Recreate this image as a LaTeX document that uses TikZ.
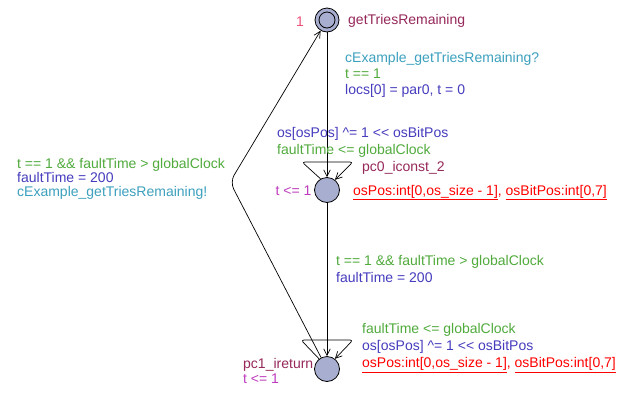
\documentclass[tikz,border=0pt]{standalone}
\usepackage{fontspec}
\setmainfont{Liberation Sans}[Ligatures={NoCommon}]
\usetikzlibrary{arrows.meta}

\definecolor{locfill}{RGB}{168,174,208}
\definecolor{synccol}{RGB}{60,160,190}
\definecolor{guardcol}{RGB}{80,170,60}
\definecolor{updcol}{RGB}{70,60,190}
\definecolor{namecol}{RGB}{150,40,90}
\definecolor{invcol}{RGB}{190,60,190}
\definecolor{priocol}{RGB}{240,80,120}
\definecolor{selcol}{RGB}{255,0,0}

\begin{document}
\begin{tikzpicture}[x=1pt,y=-1pt,
  loc/.style={circle,draw=black,line width=0.8pt,fill=locfill,minimum size=25pt,inner sep=0},
  lbl/.style={anchor=base west,inner sep=0,font=\fontsize{14}{16}\selectfont},
  trans/.style={draw=black,line width=0.7pt,-{Straight Barb[length=6.5pt,width=6.5pt]}},
  loopline/.style={trans,rounded corners=3pt}
]
% canvas
\fill[white] (0,0) rectangle (632,400);
\useasboundingbox (0,0) rectangle (632,400);

% locations
\node[loc,minimum size=24pt] (top) at (327,20) {};
\node[circle,draw=black,line width=0.8pt,minimum size=16pt,inner sep=0] (topin) at (top) {};
\node[loc] (mid) at (327,190) {};
\node[loc] (bot) at (327,369) {};

% nails
\coordinate (bend) at (230,182);
\coordinate (mloopL) at (302,162);
\coordinate (mloopR) at (353,162);
\coordinate (bloopL) at (301,340);
\coordinate (bloopR) at (353,340);

% transitions
\draw[trans] (top) -- (mid);
\draw[trans] (mid) -- (bot);
\draw[trans,rounded corners=8pt] (bot) -- (bend) -- (top);
\draw[loopline] (mid.120) -- (mloopL) -- (mloopR) -- (mid.52);
\draw[loopline] (bot.128) -- (bloopL) -- (bloopR) -- (bot.52);

% location labels
\node[lbl,text=priocol] (prio) at (296,26) {1};
\node[lbl,text=namecol] (nTop) at (348,24) {getTriesRemaining};
\node[lbl,text=namecol] (nMid) at (362,171) {pc0\_iconst\_2};
\node[lbl,text=invcol] (iMid) at (275.5,195) {t <= 1};
\node[lbl,text=namecol] (nBot) at (243,368) {pc1\_ireturn};
\node[lbl,text=invcol] (iBot) at (243,383.5) {t <= 1};

% top -> mid
\node[lbl,text=synccol] (s1) at (345,62) {cExample\_getTriesRemaining?};
\node[lbl,text=guardcol] (g1) at (345,78) {t == 1};
\node[lbl,text=updcol] (u1) at (345,94.5) {locs[0] = par0, t = 0};

% mid self loop
\node[lbl,text=updcol] (u2) at (277,137.5) {os[osPos] \textasciicircum= 1 <{}< osBitPos};
\node[lbl,text=guardcol] (g2) at (277,154) {faultTime <= globalClock};
\node[lbl,text=selcol] (sel2) at (353,195) {\underline{osPos:int[0,os\_size - 1]}, \underline{osBitPos:int[0,7]}};

% mid -> bot
\node[lbl,text=guardcol] (g3) at (336,265.5) {t == 1 \&\& faultTime > globalClock};
\node[lbl,text=updcol] (u3) at (336,282) {faultTime = 200};

% bot self loop
\node[lbl,text=guardcol] (g4) at (362,333) {faultTime <= globalClock};
\node[lbl,text=updcol] (u4) at (362,350) {os[osPos] \textasciicircum= 1 <{}< osBitPos};
\node[lbl,text=selcol] (sel4) at (362,367.5) {\underline{osPos:int[0,os\_size - 1]}, \underline{osBitPos:int[0,7]}};

% bot -> top
\node[lbl,text=guardcol] (g5) at (17,168) {t == 1 \&\& faultTime > globalClock};
\node[lbl,text=updcol] (u5) at (17,182.5) {faultTime = 200};
\node[lbl,text=synccol] (s5) at (17,196.5) {cExample\_getTriesRemaining!};
\end{tikzpicture}
\end{document}
